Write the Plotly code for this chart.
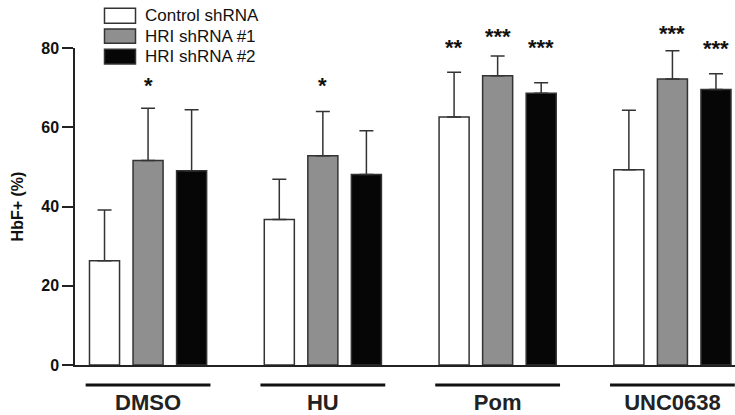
import plotly.graph_objects as go

# ---------------- data ----------------
categories = ["DMSO", "HU", "Pom", "UNC0638"]
series_names = ["Control shRNA", "HRI shRNA #1", "HRI shRNA #2"]

control_vals = [26.3, 36.7, 62.6, 49.3]
control_err = [12.8, 10.2, 11.3, 15.0]
hri1_vals = [51.6, 52.8, 73.0, 72.2]
hri1_err = [13.2, 11.2, 5.0, 7.1]
hri2_vals = [49.0, 48.1, 68.6, 69.5]
hri2_err = [15.4, 11.0, 2.6, 4.0]

control_stars = ["", "", "**", ""]
control_star_y = [None, None, 80.8, None]
hri1_stars = ["*", "*", "***", "***"]
hri1_star_y = [71.3, 71.3, 83.6, 84.4]
hri2_stars = ["", "", "***", "***"]
hri2_star_y = [None, None, 80.8, 80.7]

y_ticks = [0, 20, 40, 60, 80]
y_max = 80
y_title = "HbF+ (%)"

# ---------------- styling ----------------
FONT = "Liberation Sans, Arial, sans-serif"
fills = ["#ffffff", "#8f8f8f", "#060606"]
edge = "#333333"

W, H = 735, 415
ML, MR, MT, MB = 75, 0, 48, 50
PW, PH = W - ML - MR, H - MT - MB

bargap = 0.2526
bargroupgap = 0.31
slot = (1 - bargap) / 3  # category units per series slot

fig = go.Figure()
vals_all = [control_vals, hri1_vals, hri2_vals]
errs_all = [control_err, hri1_err, hri2_err]
for name, vals, errs, col in zip(series_names, vals_all, errs_all, fills):
    fig.add_trace(go.Bar(
        name=name, x=categories, y=vals,
        marker=dict(color=col, line=dict(color=edge, width=1.5)),
        error_y=dict(type="data", array=errs, arrayminus=[0] * len(errs),
                     symmetric=False, color="#333333", thickness=1.5, width=7),
        showlegend=False,
    ))

# significance stars (y in paper units of the [0, y_max] axis so they may sit above it)
stars_all = [(control_stars, control_star_y), (hri1_stars, hri1_star_y), (hri2_stars, hri2_star_y)]
annotations = []
for si, (labels, ys) in enumerate(stars_all):
    offset = (si - 1) * slot
    for ci, (lab, yv) in enumerate(zip(labels, ys)):
        if lab and yv is not None:
            annotations.append(dict(
                x=ci + offset, y=yv / y_max, xref="x", yref="paper", text=lab,
                showarrow=False, xanchor="center", yanchor="middle", yshift=-3,
                font=dict(family=FONT, size=22, color="#111111", weight="bold"),
            ))

# group underlines
shapes = []
for ci in range(len(categories)):
    shapes.append(dict(type="line", xref="x", yref="paper",
                       x0=ci - 0.357, x1=ci + 0.357, y0=-0.063, y1=-0.063,
                       line=dict(color="#111111", width=3)))

# manual legend (boxes + labels) in paper coordinates
def px_to_paper_x(px):
    return (px - ML) / PW

def px_to_paper_y(py):
    return (H - MB - py) / PH

legend_rows = [(8.3, 23.3), (29.0, 43.3), (49.3, 64.0)]
for (top, bot), col, name in zip(legend_rows, fills, series_names):
    shapes.append(dict(type="rect", xref="paper", yref="paper",
                       x0=px_to_paper_x(104.5), x1=px_to_paper_x(135.5),
                       y0=px_to_paper_y(bot), y1=px_to_paper_y(top),
                       fillcolor=col, line=dict(color=edge, width=1.5)))
    annotations.append(dict(
        x=px_to_paper_x(142.5), y=px_to_paper_y((top + bot) / 2),
        xref="paper", yref="paper", text=name, showarrow=False,
        xanchor="left", yanchor="middle",
        font=dict(family=FONT, size=17, color="#111111"),
    ))

fig.update_layout(
    width=W, height=H,
    margin=dict(l=ML, r=MR, t=MT, b=MB, autoexpand=False),
    paper_bgcolor="white", plot_bgcolor="white",
    barmode="group", bargap=bargap, bargroupgap=bargroupgap,
    showlegend=False,
    annotations=annotations, shapes=shapes,
    font=dict(family=FONT, color="#111111"),
)
fig.update_xaxes(
    type="category", categoryorder="array", categoryarray=categories,
    range=[-0.418, 3.358],
    showline=True, linecolor="#222222", linewidth=1.5,
    ticks="", ticklabelstandoff=17, showgrid=False, zeroline=False,
    tickfont=dict(family=FONT, size=22, color="#222222", weight="bold"),
)
fig.update_yaxes(
    range=[0, y_max], tickvals=y_ticks,
    showline=True, linecolor="#222222", linewidth=1.5,
    ticks="outside", ticklen=11, tickwidth=1.5, tickcolor="#222222",
    showgrid=False, zeroline=False,
    tickfont=dict(family=FONT, size=16, color="#111111", weight="bold"),
    title=dict(text=y_title, standoff=14,
               font=dict(family=FONT, size=16, color="#111111", weight="bold")),
)

fig.write_html(
    "out.html",
    config={"displayModeBar": False},
    post_script="document.body.style.margin='0px';document.body.style.overflow='hidden';",
)
